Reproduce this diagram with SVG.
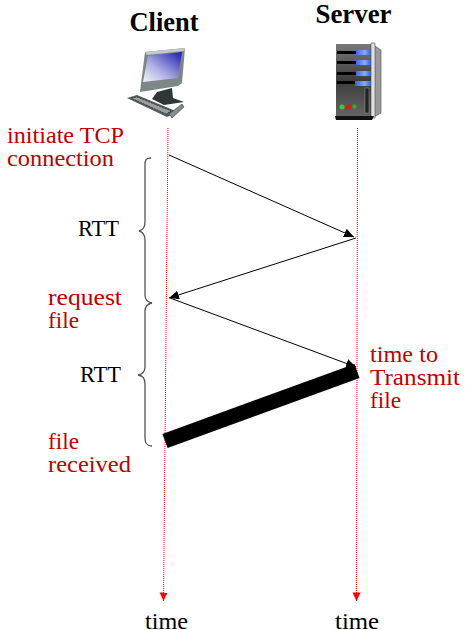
<svg xmlns="http://www.w3.org/2000/svg" width="465" height="630" viewBox="0 0 465 630">
<style>
.t{font-family:"Liberation Serif","DejaVu Serif",serif;font-size:24px;fill:#000}
.r{font-family:"Liberation Serif","DejaVu Serif",serif;font-size:24px;fill:#c00000}
.h{font-family:"Liberation Serif","DejaVu Serif",serif;font-size:27px;font-weight:700;fill:#000}
.tl{fill:none;stroke:#f00;stroke-width:1;stroke-dasharray:1 1}
.msg{fill:none;stroke:#000;stroke-width:1;marker-end:url(#ah)}
.br{fill:none;stroke:#555;stroke-width:1.3}
</style>
<defs>
<marker id="ah" markerUnits="userSpaceOnUse" markerWidth="12" markerHeight="10" refX="10" refY="4.5" orient="auto"><path d="M0 0L10 4.5L0 9Z" fill="#000"/></marker>
<marker id="rh" markerUnits="userSpaceOnUse" markerWidth="10" markerHeight="10" refX="8.500" refY="4" orient="auto"><path d="M0 0L8.500 4L0 8Z" fill="#f00"/></marker>
<linearGradient id="scr" x1="1" y1="0" x2="0" y2="1"><stop offset="0" stop-color="#1a1ab0"/><stop offset=".6" stop-color="#b0b0e4"/><stop offset="1" stop-color="#f6f6fc"/></linearGradient>
<linearGradient id="srv" x1="0" y1="0" x2="0" y2="1"><stop offset="0" stop-color="#7a7a7a"/><stop offset=".5" stop-color="#3c3c3c"/><stop offset="1" stop-color="#666"/></linearGradient>
<linearGradient id="bl" x1="0" y1="0" x2="1" y2="0"><stop offset="0" stop-color="#3060e0"/><stop offset=".6" stop-color="#88aaff"/><stop offset="1" stop-color="#3060e0"/></linearGradient>
</defs>
<g id="connectors">
<path class="tl" d="M168 128L163.500 601" marker-end="url(#rh)"/>
<path class="tl" d="M357.500 128L356.500 601" marker-end="url(#rh)"/>
<path class="msg" d="M169 155L354 237"/>
<path class="msg" d="M356 238L169 298"/>
<path class="msg" d="M170 298L356 367"/>
<path d="M165 441L357 371" fill="none" stroke="#000" stroke-width="15"/>
</g>
<g id="client">
<text class="h" x="164" y="31" text-anchor="middle" textLength="69" lengthAdjust="spacingAndGlyphs">Client</text>
<g id="client-icon">
<path d="M145 52L185 48L182 83L178 86L140 92Z" fill="#7d8787"/>
<path d="M145 52L185 48L184 51L147 55Z" fill="#c4c8c8"/>
<path d="M148 56L182 52L178 78L143 82Z" fill="url(#scr)"/>
<path d="M157 92L172 88L173 98L184 102L164 105L152 99Z" fill="#303636"/>
<path d="M127 98L137 95L178 112L167 117Z" fill="#555a5a"/>
<path d="M131 98L137 97L171 111L166 114Z" fill="#9aa0a0" stroke="#222" stroke-width=".6" stroke-dasharray="2 1"/>
<path d="M169 114L182 104L184 107L172 118Z" fill="#888e8e" stroke="#222" stroke-width=".5"/>
</g>
</g>
<g id="server">
<text class="h" x="353.500" y="23" text-anchor="middle" textLength="76" lengthAdjust="spacingAndGlyphs">Server</text>
<g id="server-icon">
<path d="M372 44L381 50L381 113L372 118Z" fill="#9a9a9a" stroke="#333" stroke-width=".5"/>
<path d="M336 44H372V117H336Z" fill="url(#srv)"/>
<path d="M371 43H375V118H371Z" fill="#e0e0e0" stroke="#333" stroke-width=".5"/>
<path d="M337 51H356V54H337ZM337 61H356V64H337ZM337 72H356V75H337ZM337 81H355V84H337Z" fill="#000"/>
<path d="M356 50H371V55H356ZM356 60H371V65H356ZM356 71H371V76H356ZM355 81H371V86H355Z" fill="url(#bl)"/>
<path d="M365 88H369V113H365Z" fill="#222" stroke="#888" stroke-width=".6"/>
<circle cx="342" cy="107" r="2.500" fill="#30d030"/><circle cx="348.500" cy="107" r="2.500" fill="#f01010"/><circle cx="354.500" cy="106.500" r="2.200" fill="#30b030"/>
<path d="M335 116H374L372 120H336Z" fill="#111"/>
</g>
</g>
<g id="labels">
<text class="r" x="7" y="143" textLength="117" lengthAdjust="spacingAndGlyphs">initiate TCP</text>
<text class="r" x="7" y="166" textLength="107" lengthAdjust="spacingAndGlyphs">connection</text>
<text class="t" x="78" y="236" textLength="41" lengthAdjust="spacingAndGlyphs">RTT</text>
<text class="r" x="48" y="305" textLength="74" lengthAdjust="spacingAndGlyphs">request</text>
<text class="r" x="48" y="328" textLength="31" lengthAdjust="spacingAndGlyphs">file</text>
<text class="t" x="80" y="382" textLength="41" lengthAdjust="spacingAndGlyphs">RTT</text>
<text class="r" x="370" y="362" textLength="68" lengthAdjust="spacingAndGlyphs">time to</text>
<text class="r" x="370" y="385" textLength="90" lengthAdjust="spacingAndGlyphs">Transmit</text>
<text class="r" x="370" y="408" textLength="31" lengthAdjust="spacingAndGlyphs">file</text>
<text class="r" x="48" y="449" textLength="31" lengthAdjust="spacingAndGlyphs">file</text>
<text class="r" x="48" y="472" textLength="83" lengthAdjust="spacingAndGlyphs">received</text>
<text class="t" x="145" y="629" textLength="43" lengthAdjust="spacingAndGlyphs">time</text>
<text class="t" x="335" y="629" textLength="44" lengthAdjust="spacingAndGlyphs">time</text>
</g>
<g id="braces">
<path class="br" d="M151 158C146 158 145 160 145 165L145 222C145 228 143 230 139 231C143 232 145 234 145 240L145 295C145 300 147 302 152 303"/>
<path class="br" d="M152 303C147 304 145 306 145 311L145 367C145 372 143 374 138 375C143 376 145 378 145 384L145 438C145 444 147 446 152 446"/>
</g>
</svg>
